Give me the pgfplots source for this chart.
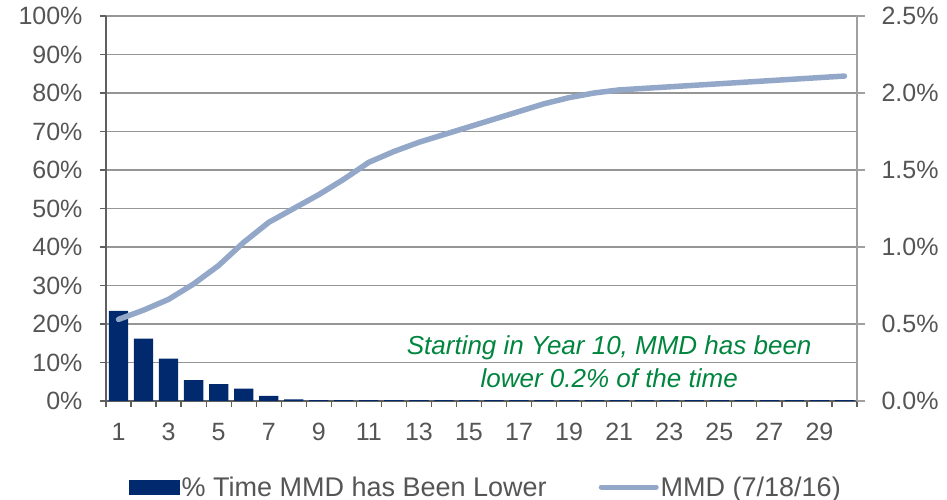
\documentclass[border=0pt]{standalone}
\usepackage{fontspec}
\setmainfont{Liberation Sans}
\usepackage{pgfplots}
\usepackage{pgfplotstable}
\pgfplotsset{compat=1.18}

\definecolor{barblue}{RGB}{0,41,110}
\definecolor{mmdline}{RGB}{147,168,201}
\definecolor{gridgray}{RGB}{150,150,150}
\definecolor{axisdark}{RGB}{95,95,95}
\definecolor{rightgray}{RGB}{160,160,160}
\definecolor{labelgray}{RGB}{85,85,85}
\definecolor{notegreen}{RGB}{0,133,62}

% year, % of time MMD has been lower, MMD curve (7/18/16)
\pgfplotstableread{
year pct mmd
1  23.4 0.53
2  16.2 0.59
3  11.0 0.66
4  5.4  0.76
5  4.4  0.88
6  3.2  1.03
7  1.3  1.16
8  0.45 1.25
9  0.25 1.34
10 0.2  1.44
11 0.2  1.55
12 0.2  1.62
13 0.2  1.68
14 0.2  1.73
15 0.2  1.78
16 0.2  1.83
17 0.2  1.88
18 0.2  1.93
19 0.2  1.97
20 0.2  2.00
21 0.2  2.02
22 0.2  2.03
23 0.2  2.04
24 0.2  2.05
25 0.2  2.06
26 0.2  2.07
27 0.2  2.08
28 0.2  2.09
29 0.2  2.10
30 0.2  2.11
}\mmddata

\begin{document}
\begin{tikzpicture}
\pgfplotsset{
  base/.style={
    scale only axis, width=751pt, height=385pt,
    at={(0pt,0pt)}, anchor=south west,
    xmin=0.5, xmax=30.5,
    tick align=outside,
    /pgf/number format/assume math mode=true,
    tick label style={font=\fontsize{25}{30}\selectfont, text=labelgray},
  }
}
\begin{axis}[base,
  ymin=0, ymax=100,
  axis x line*=bottom, axis y line*=left,
  ytick={0,10,...,100},
  yticklabel={\pgfmathprintnumber{\tick}\%},
  xtick={1,3,...,29},
  minor xtick={0.5,1.5,...,30.5},
  major x tick style={draw=none},
  minor x tick style={axisdark, line width=1.2pt},
  ymajorgrids, grid style={gridgray, line width=1.2pt},
  major tick length=6pt, minor tick length=6pt,
  y tick style={axisdark, line width=1.2pt},
  axis line style={axisdark, line width=1.2pt},
  yticklabel style={xshift=-14pt},
  xticklabel style={yshift=-13pt},
]
\addplot[ybar, bar width=0.77, fill=barblue, draw=none] table[x=year,y=pct]{\mmddata};
\node[font=\fontsize{26}{33}\selectfont\itshape, text=notegreen, align=center]
  at (axis cs:20.6,10.3) {Starting in Year 10, MMD has been\\lower 0.2\% of the time};
\end{axis}
\begin{axis}[base,
  ymin=0, ymax=2.5,
  axis x line=none, axis y line*=right,
  ytick={0,0.5,...,2.5},
  yticklabel={\pgfmathprintnumber[fixed,fixed zerofill,precision=1]{\tick}\%},
  major tick length=8pt,
  y tick style={rightgray, line width=1.2pt},
  axis line style={rightgray, line width=1.2pt},
  yticklabel style={xshift=13pt},
  legend columns=2,
  legend style={at={(0.506,-0.2234)}, anchor=center, draw=none, fill=none,
    inner sep=0pt, font=\fontsize{27}{32}\selectfont, text=labelgray,
    /tikz/every even column/.append style={column sep=50pt}},
]
\addlegendimage{legend image code/.code={\fill[barblue] (0pt,-7pt) rectangle (50pt,7pt);}}
\addlegendentry{\% Time MMD has Been Lower}
\addplot[mmdline, line width=5.5pt, line cap=round, line join=round,
  legend image code/.code={\draw[mmdline, line width=5pt] (0pt,0pt) -- (55pt,0pt);}]
  table[x=year,y=mmd]{\mmddata};
\addlegendentry{MMD (7/18/16)}
\end{axis}
\pgfresetboundingbox
\path[use as bounding box] (-106pt,-99pt) rectangle (841pt,401pt);
\end{tikzpicture}
\end{document}
